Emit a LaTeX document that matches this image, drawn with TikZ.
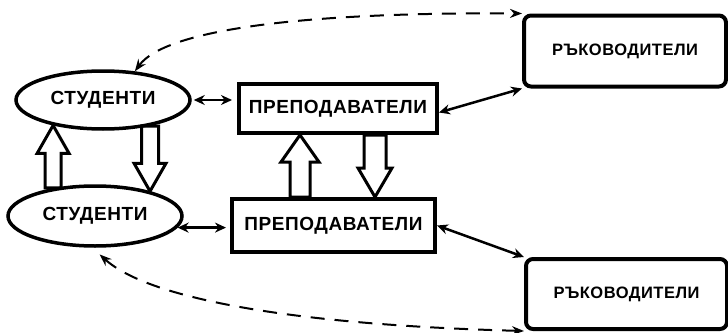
\documentclass[tikz,border=0pt]{standalone}
\usepackage{fontspec}
\setmainfont{Liberation Sans}[LetterSpace=3]
\usetikzlibrary{arrows.meta,calc,shapes.geometric}

\begin{document}
\begin{tikzpicture}[x=1pt, y=-1pt,
    font=\bfseries\fontsize{19}{21}\selectfont,
    student/.style={ellipse, draw, line width=3.5pt, minimum width=174pt, minimum height=58pt, inner sep=0pt},
    teacher/.style={rectangle, draw, line width=4pt, inner sep=0pt},
    leader/.style={rectangle, rounded corners=7pt, draw, line width=4pt, inner sep=0pt,
      minimum width=202pt, minimum height=71pt, font=\bfseries\fontsize{16.5}{18}\selectfont},
    exchange/.style={line width=2.5pt, {Stealth[length=11pt,width=10pt]}-{Stealth[length=11pt,width=10pt]}},
    feedback/.style={line width=2pt, dash pattern=on 14pt off 10pt,
      {Stealth[length=12pt,width=9pt]}-{Stealth[length=12pt,width=9pt]}},
    hollow/.style n args={3}{line width=3pt, line join=miter, to path={
      let \p1=(\tikztostart), \p2=(\tikztotarget), \n1={sign(\y2-\y1)} in
      ({\x1-#1},\y1) -- ({\x1-#1},{\y2-(\n1)*#3}) -- ({\x1-#2},{\y2-(\n1)*#3}) -- (\x1,\y2)
      -- ({\x1+#2},{\y2-(\n1)*#3}) -- ({\x1+#1},{\y2-(\n1)*#3}) -- ({\x1+#1},\y1) -- cycle}}
    ]
    \useasboundingbox (0,0) rectangle (728,332);

    % students
    \node[student] (s1) at (103,100) {СТУДЕНТИ};
    \node[student, minimum height=60pt] (s2) at (95,216) {СТУДЕНТИ};

    % teachers
    \node[teacher, minimum width=198pt, minimum height=49pt] (p1) at (338,108.5) {ПРЕПОДАВАТЕЛИ};
    \node[teacher, minimum width=203pt, minimum height=53pt] (p2) at (333.5,225.5) {ПРЕПОДАВАТЕЛИ};

    % leaders
    \node[leader] (r1) at (625,51) {РЪКОВОДИТЕЛИ};
    \node[leader, minimum width=201pt, minimum height=70pt] (r2) at (626.5,294) {РЪКОВОДИТЕЛИ};

    % hollow arrows
    \draw[hollow={8pt}{16pt}{28pt}] (s1.207 |- s2.146) to (s1.207);
    \draw[hollow={8.5pt}{16pt}{28pt}] (s1.331) to (s1.331 |- s2.24);
    \draw[hollow={10pt}{19pt}{27pt}] ([xshift=-33.5pt]p2.north) to ([xshift=-38pt]p1.south);
    \draw[hollow={11pt}{17pt}{29pt}] ([xshift=37pt]p1.south) to ([xshift=41.5pt]p2.north);

    % links
    \draw[exchange, shorten >=5pt, shorten <=2pt] (s1.east) -- (s1.east -| p1.west);
    \draw[exchange, shorten >=4pt] (s2.-8) -- (s2.-8 -| p2.west);
    \draw[exchange] ([yshift=-4pt]p1.east) -- (r1.south west);
    \draw[exchange] (p2.east) -- (r2.north west);

    % dashed feedback
    \draw[feedback] (s1.42) .. controls (165,30) and (300,12) .. (r1.north west);
    \draw[feedback, shorten <=10pt] (s2.265) .. controls (150,300) and (300,325) .. (r2.south west);
\end{tikzpicture}
\end{document}
